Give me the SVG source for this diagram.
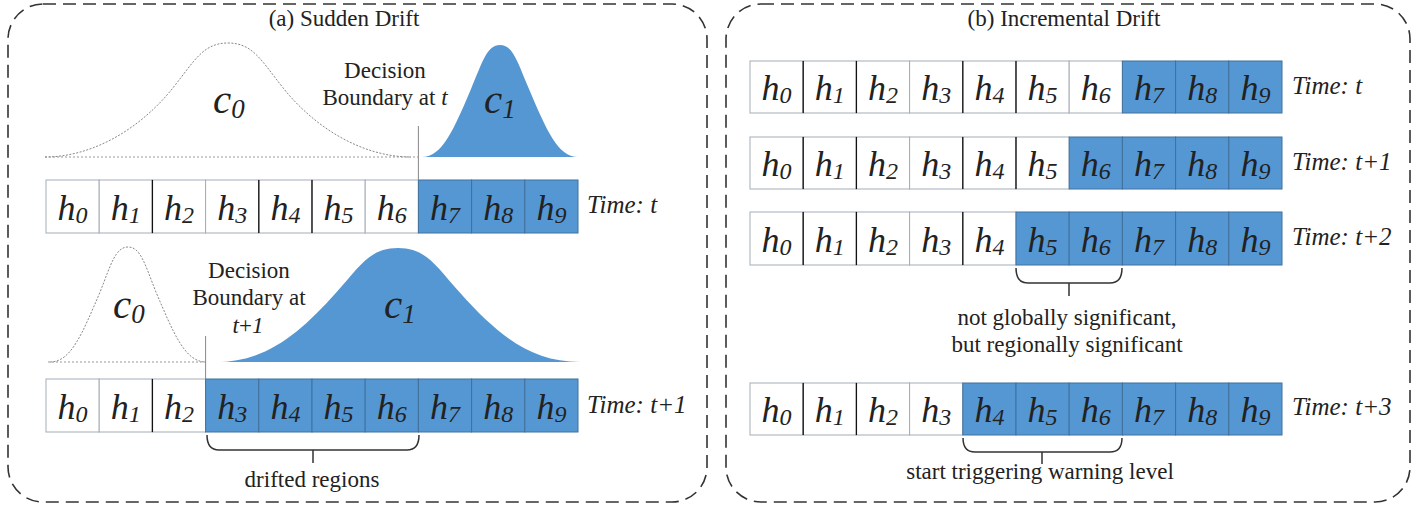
<svg xmlns="http://www.w3.org/2000/svg" width="1413" height="508" viewBox="0 0 1413 508">
<style>
text{font-family:"Liberation Serif","Times New Roman",serif;fill:#222}
.panel{fill:none;stroke:#333;stroke-width:1.6;stroke-dasharray:13 7}
.title{font-size:23px;text-anchor:middle}
.lbl{font-size:23px;text-anchor:middle}
.h{font-size:36px;font-style:italic;text-anchor:middle}
.h tspan{font-size:24px}
.c{font-size:41px;font-style:italic}
.c tspan{font-size:27px}
.time{font-size:25px;font-style:italic}
.w{fill:#fff;stroke:#a3acb9;stroke-width:1}
.b{fill:#5597d3;stroke:#41719c;stroke-width:1}
.k{stroke:#111;stroke-width:1.3}
.curve0{fill:none;stroke:#888;stroke-width:1;stroke-dasharray:2 1.5}
.curve1{fill:#5597d3;stroke:none}
.base{stroke:#999;stroke-width:1;stroke-dasharray:2 2}
.db{stroke:#888;stroke-width:1}
.brace{fill:none;stroke:#333;stroke-width:1.5}
</style>

<!-- Panels -->
<g id="panel-a">
<rect class="panel" x="8" y="4" width="699" height="498" rx="35"/>
<text class="title" x="344" y="26">(a) Sudden Drift</text>
</g>
<g id="panel-b">
<rect class="panel" x="726" y="4" width="684" height="498" rx="35"/>
<text class="title" x="1064" y="26">(b) Incremental Drift</text>
</g>

<!-- Distributions, panel a, time t -->
<g id="dist-a-t">
<line class="base" x1="45" y1="157" x2="418" y2="157"/>
<path class="curve0" d="M45,157 C92,157 140,129.3 173,87.8 C195,60.1 203.25,43 228,43 C252.75,43 261,60.1 283,87.8 C316,129.3 364,157 411,157"/>
<path class="curve1" d="M422,157 C442.3,157 453.6,129.8 471,89 C482.6,61.8 486.95,45 500,45 C513.05,45 517.4,61.8 529,89 C546.4,129.8 557.7,157 578,157 Z"/>
<text class="c" x="213" y="113">c<tspan dy="5">0</tspan></text>
<text class="c" x="484" y="113">c<tspan dy="5">1</tspan></text>
<text class="lbl" x="385" y="78">Decision</text>
<text class="lbl" x="385" y="105">Boundary at <tspan font-style="italic">t</tspan></text>
</g>

<!-- Distributions, panel a, time t+1 -->
<g id="dist-a-t1">
<line class="base" x1="48" y1="362" x2="206" y2="362"/>
<path class="curve0" d="M50,362 C71,362 82,334.1 100,292.2 C111,264.25 115.5,247 128,247 C140.5,247 145,264.25 156,292.2 C174,334.1 185,362 206,362"/>
<path class="curve1" d="M216,362 C265.6,362 298.8,334.3 336,292.8 C360.8,265.1 370.1,248 398,248 C425.9,248 435.2,265.1 460,292.8 C497.2,334.3 530.4,362 580,362 Z"/>
<text class="c" x="113" y="318">c<tspan dy="5">0</tspan></text>
<text class="c" x="384" y="318">c<tspan dy="5">1</tspan></text>
<text class="lbl" x="249" y="278">Decision</text>
<text class="lbl" x="249" y="305">Boundary at</text>
<text class="lbl" x="248" y="333"><tspan font-style="italic">t</tspan>+<tspan font-style="italic">1</tspan></text>
</g>

<!-- Row a, time t -->
<g id="row-a-t">
<rect class="w" x="46" y="180" width="53.2" height="53"/>
<rect class="w" x="99.2" y="180" width="53.2" height="53"/>
<rect class="w" x="152.4" y="180" width="53.2" height="53"/>
<rect class="w" x="205.6" y="180" width="53.2" height="53"/>
<rect class="w" x="258.8" y="180" width="53.2" height="53"/>
<rect class="w" x="312" y="180" width="53.2" height="53"/>
<rect class="w" x="365.2" y="180" width="53.2" height="53"/>
<rect class="b" x="418.4" y="180" width="53.2" height="53"/>
<rect class="b" x="471.6" y="180" width="53.2" height="53"/>
<rect class="b" x="524.8" y="180" width="53.2" height="53"/>
<line class="k" x1="152.4" y1="180" x2="152.4" y2="233"/>
<line class="k" x1="258.8" y1="180" x2="258.8" y2="233"/>
<line class="k" x1="312" y1="180" x2="312" y2="233"/>
<text class="h" x="72.6" y="220">h<tspan dy="3">0</tspan></text>
<text class="h" x="125.8" y="220">h<tspan dy="3">1</tspan></text>
<text class="h" x="179" y="220">h<tspan dy="3">2</tspan></text>
<text class="h" x="232.2" y="220">h<tspan dy="3">3</tspan></text>
<text class="h" x="285.4" y="220">h<tspan dy="3">4</tspan></text>
<text class="h" x="338.6" y="220">h<tspan dy="3">5</tspan></text>
<text class="h" x="391.8" y="220">h<tspan dy="3">6</tspan></text>
<text class="h" x="445" y="220">h<tspan dy="3">7</tspan></text>
<text class="h" x="498.2" y="220">h<tspan dy="3">8</tspan></text>
<text class="h" x="551.4" y="220">h<tspan dy="3">9</tspan></text>
<text class="time" x="587" y="213">Time: t</text>
</g>

<!-- Row a, time t+1 -->
<g id="row-a-t1">
<rect class="w" x="46" y="379" width="53.2" height="53"/>
<rect class="w" x="99.2" y="379" width="53.2" height="53"/>
<rect class="w" x="152.4" y="379" width="53.2" height="53"/>
<rect class="b" x="205.6" y="379" width="53.2" height="53"/>
<rect class="b" x="258.8" y="379" width="53.2" height="53"/>
<rect class="b" x="312" y="379" width="53.2" height="53"/>
<rect class="b" x="365.2" y="379" width="53.2" height="53"/>
<rect class="b" x="418.4" y="379" width="53.2" height="53"/>
<rect class="b" x="471.6" y="379" width="53.2" height="53"/>
<rect class="b" x="524.8" y="379" width="53.2" height="53"/>
<line class="k" x1="152.4" y1="379" x2="152.4" y2="432"/>
<text class="h" x="72.6" y="419">h<tspan dy="3">0</tspan></text>
<text class="h" x="125.8" y="419">h<tspan dy="3">1</tspan></text>
<text class="h" x="179" y="419">h<tspan dy="3">2</tspan></text>
<text class="h" x="232.2" y="419">h<tspan dy="3">3</tspan></text>
<text class="h" x="285.4" y="419">h<tspan dy="3">4</tspan></text>
<text class="h" x="338.6" y="419">h<tspan dy="3">5</tspan></text>
<text class="h" x="391.8" y="419">h<tspan dy="3">6</tspan></text>
<text class="h" x="445" y="419">h<tspan dy="3">7</tspan></text>
<text class="h" x="498.2" y="419">h<tspan dy="3">8</tspan></text>
<text class="h" x="551.4" y="419">h<tspan dy="3">9</tspan></text>
<text class="time" x="587" y="413">Time: t+1</text>
</g>

<!-- Row b, time t -->
<g id="row-b-t">
<rect class="w" x="750" y="61" width="53.2" height="52"/>
<rect class="w" x="803.2" y="61" width="53.2" height="52"/>
<rect class="w" x="856.4" y="61" width="53.2" height="52"/>
<rect class="w" x="909.6" y="61" width="53.2" height="52"/>
<rect class="w" x="962.8" y="61" width="53.2" height="52"/>
<rect class="w" x="1016" y="61" width="53.2" height="52"/>
<rect class="w" x="1069.2" y="61" width="53.2" height="52"/>
<rect class="b" x="1122.4" y="61" width="53.2" height="52"/>
<rect class="b" x="1175.6" y="61" width="53.2" height="52"/>
<rect class="b" x="1228.8" y="61" width="53.2" height="52"/>
<line class="k" x1="803.2" y1="61" x2="803.2" y2="113"/>
<line class="k" x1="856.4" y1="61" x2="856.4" y2="113"/>
<line class="k" x1="962.8" y1="61" x2="962.8" y2="113"/>
<line class="k" x1="1016" y1="61" x2="1016" y2="113"/>
<text class="h" x="776.6" y="100">h<tspan dy="3">0</tspan></text>
<text class="h" x="829.8" y="100">h<tspan dy="3">1</tspan></text>
<text class="h" x="883" y="100">h<tspan dy="3">2</tspan></text>
<text class="h" x="936.2" y="100">h<tspan dy="3">3</tspan></text>
<text class="h" x="989.4" y="100">h<tspan dy="3">4</tspan></text>
<text class="h" x="1042.6" y="100">h<tspan dy="3">5</tspan></text>
<text class="h" x="1095.8" y="100">h<tspan dy="3">6</tspan></text>
<text class="h" x="1149" y="100">h<tspan dy="3">7</tspan></text>
<text class="h" x="1202.2" y="100">h<tspan dy="3">8</tspan></text>
<text class="h" x="1255.4" y="100">h<tspan dy="3">9</tspan></text>
<text class="time" x="1292" y="94">Time: t</text>
</g>

<!-- Row b, time t+1 -->
<g id="row-b-t1">
<rect class="w" x="750" y="137" width="53.2" height="52"/>
<rect class="w" x="803.2" y="137" width="53.2" height="52"/>
<rect class="w" x="856.4" y="137" width="53.2" height="52"/>
<rect class="w" x="909.6" y="137" width="53.2" height="52"/>
<rect class="w" x="962.8" y="137" width="53.2" height="52"/>
<rect class="w" x="1016" y="137" width="53.2" height="52"/>
<rect class="b" x="1069.2" y="137" width="53.2" height="52"/>
<rect class="b" x="1122.4" y="137" width="53.2" height="52"/>
<rect class="b" x="1175.6" y="137" width="53.2" height="52"/>
<rect class="b" x="1228.8" y="137" width="53.2" height="52"/>
<line class="k" x1="803.2" y1="137" x2="803.2" y2="189"/>
<line class="k" x1="856.4" y1="137" x2="856.4" y2="189"/>
<line class="k" x1="962.8" y1="137" x2="962.8" y2="189"/>
<line class="k" x1="1016" y1="137" x2="1016" y2="189"/>
<text class="h" x="776.6" y="176">h<tspan dy="3">0</tspan></text>
<text class="h" x="829.8" y="176">h<tspan dy="3">1</tspan></text>
<text class="h" x="883" y="176">h<tspan dy="3">2</tspan></text>
<text class="h" x="936.2" y="176">h<tspan dy="3">3</tspan></text>
<text class="h" x="989.4" y="176">h<tspan dy="3">4</tspan></text>
<text class="h" x="1042.6" y="176">h<tspan dy="3">5</tspan></text>
<text class="h" x="1095.8" y="176">h<tspan dy="3">6</tspan></text>
<text class="h" x="1149" y="176">h<tspan dy="3">7</tspan></text>
<text class="h" x="1202.2" y="176">h<tspan dy="3">8</tspan></text>
<text class="h" x="1255.4" y="176">h<tspan dy="3">9</tspan></text>
<text class="time" x="1292" y="170">Time: t+1</text>
</g>

<!-- Row b, time t+2 -->
<g id="row-b-t2">
<rect class="w" x="750" y="212" width="53.2" height="53"/>
<rect class="w" x="803.2" y="212" width="53.2" height="53"/>
<rect class="w" x="856.4" y="212" width="53.2" height="53"/>
<rect class="w" x="909.6" y="212" width="53.2" height="53"/>
<rect class="w" x="962.8" y="212" width="53.2" height="53"/>
<rect class="b" x="1016" y="212" width="53.2" height="53"/>
<rect class="b" x="1069.2" y="212" width="53.2" height="53"/>
<rect class="b" x="1122.4" y="212" width="53.2" height="53"/>
<rect class="b" x="1175.6" y="212" width="53.2" height="53"/>
<rect class="b" x="1228.8" y="212" width="53.2" height="53"/>
<line class="k" x1="803.2" y1="212" x2="803.2" y2="265"/>
<line class="k" x1="856.4" y1="212" x2="856.4" y2="265"/>
<line class="k" x1="962.8" y1="212" x2="962.8" y2="265"/>
<text class="h" x="776.6" y="252">h<tspan dy="3">0</tspan></text>
<text class="h" x="829.8" y="252">h<tspan dy="3">1</tspan></text>
<text class="h" x="883" y="252">h<tspan dy="3">2</tspan></text>
<text class="h" x="936.2" y="252">h<tspan dy="3">3</tspan></text>
<text class="h" x="989.4" y="252">h<tspan dy="3">4</tspan></text>
<text class="h" x="1042.6" y="252">h<tspan dy="3">5</tspan></text>
<text class="h" x="1095.8" y="252">h<tspan dy="3">6</tspan></text>
<text class="h" x="1149" y="252">h<tspan dy="3">7</tspan></text>
<text class="h" x="1202.2" y="252">h<tspan dy="3">8</tspan></text>
<text class="h" x="1255.4" y="252">h<tspan dy="3">9</tspan></text>
<text class="time" x="1292" y="245">Time: t+2</text>
</g>

<!-- Row b, time t+3 -->
<g id="row-b-t3">
<rect class="w" x="750" y="383" width="53.2" height="52"/>
<rect class="w" x="803.2" y="383" width="53.2" height="52"/>
<rect class="w" x="856.4" y="383" width="53.2" height="52"/>
<rect class="w" x="909.6" y="383" width="53.2" height="52"/>
<rect class="b" x="962.8" y="383" width="53.2" height="52"/>
<rect class="b" x="1016" y="383" width="53.2" height="52"/>
<rect class="b" x="1069.2" y="383" width="53.2" height="52"/>
<rect class="b" x="1122.4" y="383" width="53.2" height="52"/>
<rect class="b" x="1175.6" y="383" width="53.2" height="52"/>
<rect class="b" x="1228.8" y="383" width="53.2" height="52"/>
<line class="k" x1="803.2" y1="383" x2="803.2" y2="435"/>
<line class="k" x1="856.4" y1="383" x2="856.4" y2="435"/>
<text class="h" x="776.6" y="422">h<tspan dy="3">0</tspan></text>
<text class="h" x="829.8" y="422">h<tspan dy="3">1</tspan></text>
<text class="h" x="883" y="422">h<tspan dy="3">2</tspan></text>
<text class="h" x="936.2" y="422">h<tspan dy="3">3</tspan></text>
<text class="h" x="989.4" y="422">h<tspan dy="3">4</tspan></text>
<text class="h" x="1042.6" y="422">h<tspan dy="3">5</tspan></text>
<text class="h" x="1095.8" y="422">h<tspan dy="3">6</tspan></text>
<text class="h" x="1149" y="422">h<tspan dy="3">7</tspan></text>
<text class="h" x="1202.2" y="422">h<tspan dy="3">8</tspan></text>
<text class="h" x="1255.4" y="422">h<tspan dy="3">9</tspan></text>
<text class="time" x="1292" y="415">Time: t+3</text>
</g>

<!-- Connectors: decision boundaries and braces -->
<g id="connectors">
<line class="db" x1="418.4" y1="126" x2="418.4" y2="180"/>
<line class="db" x1="205.6" y1="336" x2="205.6" y2="379"/>
<path class="brace" d="M207,435 Q207,450 219,450 L407,450 Q419,450 419,435 M313,450 L313,463"/>
<path class="brace" d="M1016,268 Q1016,283 1028,283 L1110,283 Q1122,283 1122,268 M1069,283 L1069,296"/>
<path class="brace" d="M963,438 Q963,452 975,452 L1110,452 Q1122,452 1122,438 M1042,452 L1042,464"/>
</g>

<g id="annotations">
<text class="lbl" x="312" y="487">drifted regions</text>
<text class="lbl" x="1067" y="325">not globally significant,</text>
<text class="lbl" x="1067" y="352">but regionally significant</text>
<text class="lbl" x="1040" y="479">start triggering warning level</text>
</g>
</svg>
